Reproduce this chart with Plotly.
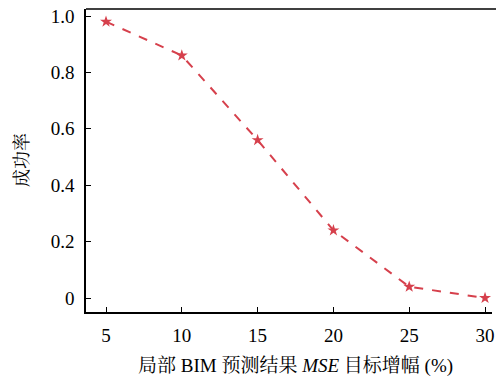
import plotly.graph_objects as go

x_vals = [5, 10, 15, 20, 25, 30]
success_rate = [0.98, 0.86, 0.56, 0.24, 0.04, 0.0]
x_ticks = [5, 10, 15, 20, 25, 30]
y_ticks = [0, 0.2, 0.4, 0.6, 0.8, 1.0]
y_ticklabels = ["0", "0.2", "0.4", "0.6", "0.8", "1.0"]

font_fam = "Liberation Serif, Noto Serif CJK SC, Noto Sans CJK SC, serif"

W, H = 496, 381
L, R, T, B = 86, 4, 9, 69
pw, ph = W - L - R, H - T - B


def px(xw):
    return (xw - L) / pw


def py(yw):
    return (H - B - yw) / ph


fig = go.Figure()
fig.add_trace(go.Scatter(
    x=x_vals, y=success_rate, mode="lines+markers",
    line=dict(color="#d6404c", width=2, dash="dash"),
    marker=dict(symbol="star", size=9, color="#d6404c"),
    showlegend=False,
))

fig.add_shape(type="line", xref="paper", yref="paper", x0=0, x1=1 + R / pw, y0=1, y1=1,
              line=dict(color="black", width=1.5))

fig.add_annotation(text="局部 BIM 预测结果 <i>MSE</i> 目标增幅 (%)", xref="paper", yref="paper",
                   x=px(295), y=py(366), showarrow=False,
                   xanchor="center", yanchor="middle", font=dict(size=19))
fig.add_annotation(text="成功率", xref="paper", yref="paper",
                   x=px(22), y=py(160), showarrow=False, textangle=-90,
                   xanchor="center", yanchor="middle", font=dict(size=18))

fig.update_layout(
    width=W, height=H,
    margin=dict(l=L, r=R, t=T, b=B),
    paper_bgcolor="white", plot_bgcolor="white",
    font=dict(family=font_fam, size=19, color="black"),
    xaxis=dict(
        range=[3.68, 30.46], tickvals=x_ticks, ticks="inside", ticklen=5,
        tickcolor="black", showline=True, linecolor="black", linewidth=1.5,
        showgrid=False, zeroline=False, automargin=False, ticklabelstandoff=5,
        ticklabeloverflow="allow",
    ),
    yaxis=dict(
        range=[-0.0496, 1.025], tickvals=y_ticks, ticktext=y_ticklabels,
        ticks="inside", ticklen=5, tickcolor="black",
        showline=True, linecolor="black", linewidth=1.5,
        showgrid=False, zeroline=False, automargin=False, ticklabelstandoff=6,
        ticklabeloverflow="allow",
    ),
)

fig.write_html("out.html", config={"displayModeBar": False},
               post_script="document.body.style.margin='0px';")
